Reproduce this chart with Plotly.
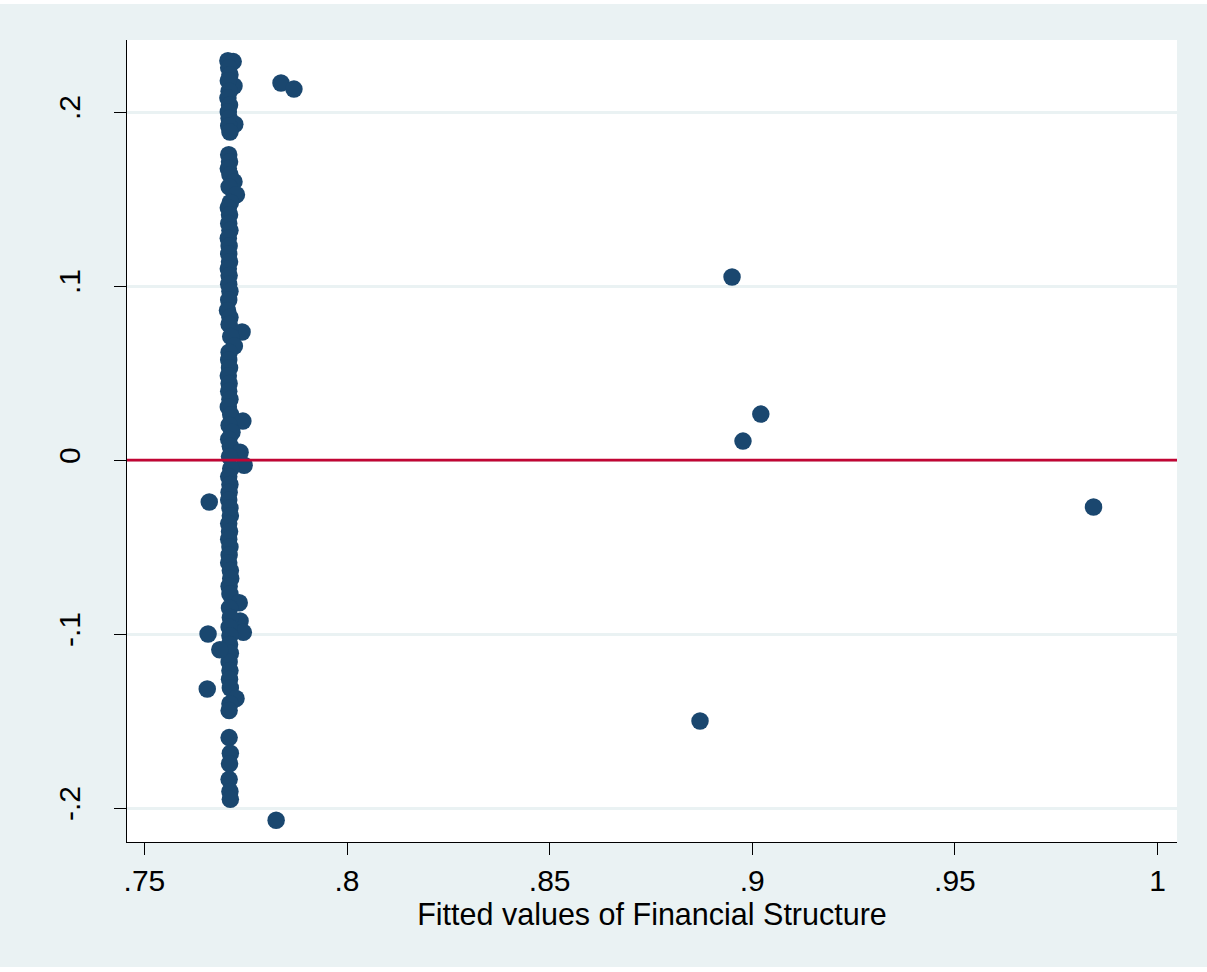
import plotly.graph_objects as go

# Residuals vs fitted values (main vertical column near .771)
col_x = [0.7706, 0.7719, 0.7708, 0.7711, 0.7721, 0.7707, 0.7709, 0.7706, 0.7710, 0.7707,
         0.7709, 0.7723, 0.7708, 0.7711,
         0.7708, 0.7710, 0.7707, 0.7711, 0.7721, 0.7709, 0.7727, 0.7712, 0.7707, 0.7710,
         0.7708, 0.7711, 0.7707, 0.7709, 0.7708, 0.7710, 0.7707, 0.7709, 0.7708, 0.7711,
         0.7708, 0.7705, 0.7711, 0.7709, 0.7741, 0.7713, 0.7722, 0.7709, 0.7708, 0.7710,
         0.7707, 0.7709, 0.7708, 0.7711, 0.7707, 0.7713, 0.7743, 0.7709, 0.7716, 0.7708,
         0.7712, 0.7736, 0.7710, 0.7746, 0.7713, 0.7708, 0.7711, 0.7709, 0.7708, 0.7711,
         0.7712, 0.7708, 0.7710, 0.7708, 0.7711, 0.7709, 0.7708, 0.7712, 0.7713, 0.7709,
         0.7711, 0.7734, 0.7710, 0.7736, 0.7712, 0.7744, 0.7709, 0.7711, 0.7710, 0.7712,
         0.7709, 0.7711, 0.7710, 0.7712, 0.7726, 0.7711, 0.7709,
         0.7709, 0.7712, 0.7710, 0.7709, 0.7711, 0.7712]
col_y = [0.2295, 0.2290, 0.2255, 0.2215, 0.2150, 0.2180, 0.2120, 0.2080, 0.2040, 0.2000,
         0.1965, 0.1930, 0.1920, 0.1885,
         0.1755, 0.1715, 0.1675, 0.1640, 0.1600, 0.1570, 0.1525, 0.1480, 0.1450, 0.1410,
         0.1360, 0.1320, 0.1275, 0.1230, 0.1185, 0.1140, 0.1100, 0.1060, 0.1010, 0.0970,
         0.0920, 0.0860, 0.0820, 0.0780, 0.0736, 0.0710, 0.0655, 0.0620, 0.0575, 0.0530,
         0.0485, 0.0440, 0.0395, 0.0350, 0.0305, 0.0260, 0.0224, 0.0200, 0.0160, 0.0120,
         0.0080, 0.0045, 0.0020, -0.0030, -0.0050, -0.0095, -0.0140, -0.0185, -0.0230, -0.0275,
         -0.0320, -0.0365, -0.0410, -0.0455, -0.0500, -0.0545, -0.0590, -0.0635, -0.0680, -0.0725,
         -0.0770, -0.0820, -0.0850, -0.0925, -0.0905, -0.0990, -0.0960, -0.1010, -0.1060, -0.1110,
         -0.1160, -0.1210, -0.1260, -0.1310, -0.1370, -0.1400, -0.1440,
         -0.1595, -0.1685, -0.1745, -0.1835, -0.1905, -0.1950]

# Scattered observations away from the column
out_x = [0.7837, 0.7869, 0.8950, 0.9021, 0.8977, 0.9842, 0.8871, 0.7825,
         0.7660, 0.7657, 0.7655, 0.7686]
out_y = [0.2167, 0.2132, 0.1052, 0.0264, 0.0109, -0.0270, -0.1500, -0.2070,
         -0.0241, -0.1000, -0.1316, -0.1090]

x_ticks = [0.75, 0.80, 0.85, 0.90, 0.95, 1.00]
x_tick_labels = [".75", ".8", ".85", ".9", ".95", "1"]
y_ticks = [-0.2, -0.1, 0.0, 0.1, 0.2]
y_tick_labels = ["-.2", "-.1", "0", ".1", ".2"]
x_title = "Fitted values of Financial Structure"

NAVY = "#1A476F"
BG = "#EAF2F3"
FONT = "Liberation Sans, Arial, sans-serif"

fig = go.Figure()
fig.add_trace(go.Scatter(x=col_x + out_x, y=col_y + out_y, mode="markers",
                         marker=dict(color=NAVY, size=17.5, line=dict(width=0)),
                         showlegend=False, hoverinfo="x+y"))
fig.add_hline(y=0, line=dict(color="#C10534", width=2.8), layer="above")

fig.update_layout(
    width=1207, height=972,
    margin=dict(l=127, r=30, t=40, b=130),
    paper_bgcolor=BG, plot_bgcolor="white",
    font=dict(family=FONT, color="black", size=30),
    showlegend=False,
    xaxis=dict(range=[0.7457, 1.0048], tickvals=x_ticks, ticktext=x_tick_labels,
               ticks="outside", ticklen=12, tickwidth=1.2, tickcolor="black",
               showline=True, linecolor="black", linewidth=1.2, showgrid=False,
               zeroline=False, tickfont=dict(size=30),
               title=dict(text=x_title, font=dict(size=30.5), standoff=5)),
    yaxis=dict(range=[-0.2195, 0.2414], tickvals=y_ticks, ticktext=y_tick_labels,
               ticks="outside", ticklen=12, tickwidth=1.2, tickcolor="black",
               showline=True, linecolor="black", linewidth=1.2,
               showgrid=True, gridcolor=BG, gridwidth=2.5, zeroline=False,
               tickangle=-90, tickfont=dict(size=30), ticklabelstandoff=22),
    shapes=[
        dict(type="rect", xref="paper", yref="paper", x0=-0.2, x1=(6 - 127) / 1050,
             y0=-0.2, y1=1.1, fillcolor="white", line=dict(width=0), layer="above"),
        dict(type="rect", xref="paper", yref="paper", x0=-0.2, x1=1.1,
             y0=(842 - 4) / 802, y1=1.1, fillcolor="white", line=dict(width=0), layer="above"),
        dict(type="rect", xref="paper", yref="paper", x0=-0.2, x1=1.1,
             y0=-0.2, y1=(842 - 967) / 802, fillcolor="white", line=dict(width=0), layer="above"),
    ],
)

fig.write_html("out.html")
